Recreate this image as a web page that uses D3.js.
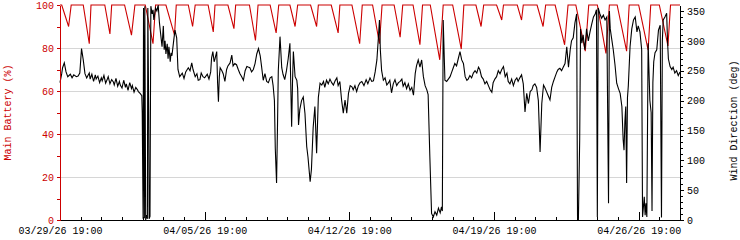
<!DOCTYPE html>
<html>
<head>
<meta charset="utf-8">
<script src="https://cdn.jsdelivr.net/npm/d3@7"></script>
<style>
  body { margin: 0; background: #fff; }
  svg { display: block; }
  text { font-family: "Liberation Mono", "DejaVu Sans Mono", monospace; font-size: 10px; }
</style>
</head>
<body>
<div id="chart"></div>
<script>
// time axis: 30 days starting 03/29/26 19:00, values are hours since start
const startTime = new Date(2026, 2, 29, 19, 0)
const spanDays = 30
const labelDays = [0, 7, 14, 21, 28]

const batTicks = [0, 20, 40, 60, 80, 100]
const windTicks = [0, 50, 100, 150, 200, 250, 300, 350]

// main battery (%): [hour, pct]
const battery = [
  [0,100],[2,100],[10,90],[13,100],[27,100],[34,82],[36,100],[52,100],[58,86.5],[60,100],
  [75,100],[83,86],[87,100],[99,100],[108,82],[111,100],[123,100],[133,86],[135,100],
  [149,100],[154,90],[157,100],[172,100],[178,87.5],[180,100],[195,100],[202,89],[204,100],
  [220,100],[227,83.5],[230,100],[244,100],[251,87],[254,100],[267,100],[273,90],[276,100],
  [291,100],[298,90],[300,100],[315,100],[323,87],[325,100],[339,100],[348,82],[351,100],
  [363,100],[371,82],[374,100],[388,100],[395,85],[398,100],[410,100],[418,81.5],[421,100],
  [430,100],[441,74.5],[445,100],[456,100],[466,79.5],[469,100],[483,100],[489,90],[492,100],
  [507,100],[513,93],[515,100],[531,100],[536,93],[538,100],[554,100],[561,90],[564,100],
  [575,100],[586,81.5],[590,100],[599,100],[610,78.5],[614,100],[624,100],[634,77.5],[638,100],
  [647,100],[658,78.5],[661,100],[672,100],[683,79],[686,100],[696,100],[706,81],[709,100],
  [720,100]
]

// wind direction (deg): [hour, deg]
const wind = [
  [0,230],[2,245],[3,255],[5,263],[7,248],[9,240],[12,244],[14,238],[16,243],[19,240],
  [21,241],[23,246],[25,287],[27,268],[29,245],[31,238],[34,246],[35,236],[37,244],[39,232],
  [41,243],[42,236],[44,241],[46,230],[48,238],[49,233],[51,242],[53,229],[55,236],[56,240],
  [58,228],[60,235],[62,231],[63,226],[65,237],[67,224],[69,232],[70,226],[72,221],[74,234],
  [76,222],[77,228],[79,217],[81,230],[83,220],[84,225],[86,214],[88,222],[90,218],[91,215],
  [93,212],[95,208],[95.5,180],[96.5,2],[97,355],[98,3],[98.5,358],[99.5,0],[100.5,8],[101.5,2],
  [102,355],[103,180],[103.5,2],[104.5,6],[105.5,358],[107,345],[108,352],[109,335],[111,355],
  [112.5,350],[114,360],[115.5,330],[117,310],[118.5,290],[120,325],[121,285],[122,300],
  [123,278],[124.5,295],[125.5,270],[126.5,290],[128,265],[129,280],[130,275],[132,300],
  [133.5,318],[135.5,305],[137,252],[139,240],[142,246],[144,237],[146,248],[149,255],
  [151,250],[153,263],[154.5,252],[157,240],[159,245],[160.5,234],[162.5,235],[164,246],
  [166,240],[168,238],[171,244],[173,236],[175,248],[176,271],[177.5,282],[179,265],[180,270],
  [182,282],[183,230],[184,198],[185,240],[186,255],[188,250],[189.5,245],[191.5,232],
  [193.5,252],[195,258],[197.5,263],[199.5,276],[201,258],[203,262],[205,260],[207,252],
  [209,245],[211,240],[213,234],[215,250],[217,257],[218.5,256],[220.5,255],[222.5,248],
  [224.5,252],[226.5,262],[228.5,278],[230.5,287],[232.5,275],[234,258],[236,234],[238,245],
  [240,232],[242,230],[244,238],[246,240],[247.5,225],[249,200],[250,120],[251.5,62],
  [252.5,150],[253.5,250],[255.5,307],[257.5,255],[259,244],[261,235],[263,250],[265,270],
  [267,296],[269,156],[270,230],[271,282],[273,240],[275,234],[276,220],[277,159],[278.5,185],
  [280.5,200],[282.5,206],[284.5,178],[286.5,123],[288,105],[290.5,64],[292,85],[294,155],
  [296,190],[298,112],[300,205],[302,229],[304,226],[306,232],[307.5,222],[309.5,234],
  [311.5,228],[313.5,236],[315.5,230],[317.5,226],[319.5,233],[321.5,238],[323,225],[325,232],
  [327,201],[329,179],[331,201],[333,179],[335,212],[337,225],[339,223],[340.5,218],[342.5,225],
  [344.5,215],[346.5,225],[348.5,230],[350.5,232],[353,225],[355.5,235],[357.5,228],[360,238],
  [362,232],[364,233],[366,248],[368,268],[369.5,300],[371,335],[372,285],[373.5,250],
  [375.5,234],[377.5,238],[379.5,226],[381.5,230],[383,234],[385,213],[387,228],[389,235],
  [391,225],[393,230],[395,232],[397,236],[398.5,224],[400.5,230],[402.5,220],[404.5,228],
  [406.5,217],[408.5,222],[410.5,209],[412.5,245],[414,258],[416,268],[418,256],[420,268],
  [422,240],[424,225],[426,218],[427.5,210],[429.5,106],[431.5,11],[433.5,5],[435.5,14],
  [437.5,8],[439.5,20],[441.5,12],[443,22],[444,15],[445,335],[447,234],[449,232],[451,236],
  [453,240],[455,248],[456.5,254],[458.5,262],[460.5,258],[462.5,270],[464.5,282],[466.5,268],
  [468.5,262],[470.5,240],[472.5,234],[474,236],[476,242],[478,238],[480,246],[482,250],
  [484,246],[486,256],[487.5,252],[489.5,240],[491.5,236],[493.5,228],[495.5,232],[497.5,225],
  [499.5,218],[501.5,214],[503,230],[505,236],[507,240],[509,250],[511,245],[513,252],
  [515,257],[517,240],[519,246],[520.5,232],[522.5,228],[524.5,236],[526.5,225],[528.5,234],
  [530.5,238],[532,232],[534,238],[536,243],[538,228],[540,181],[542,212],[544,195],[546,215],
  [548,218],[549.5,225],[551.5,228],[553.5,222],[555.5,200],[557.5,114],[559.5,195],
  [561.5,226],[563,222],[565,215],[567,208],[569,201],[571,222],[573,232],[575,240],[577,248],
  [578.5,252],[580.5,254],[582.5,250],[584.5,256],[586.5,262],[588.5,290],[590.5,256],
  [592.5,285],[594,300],[596,305],[598,330],[600,345],[601,5],[602,0],[603.5,134],[604.5,320],
  [606,296],[607.5,310],[609.5,285],[611.5,320],[613.5,300],[615.5,315],[617.5,328],
  [619.5,340],[621.5,345],[623,352],[624,5],[625,355],[627,345],[629,338],[631,343],[633,335],
  [635,340],[636,180],[637,28],[638,350],[639,320],[640.5,305],[642.5,285],[644.5,260],
  [646.5,229],[648.5,220],[650.5,212],[652.5,190],[654,134],[655,117],[656,165],[657,190],
  [658,62],[659,205],[660,225],[662,290],[664,320],[666,335],[668,340],[670,315],[671.5,325],
  [673.5,315],[675.5,285],[676.5,5],[677.5,22],[678.5,39],[679.5,8],[680.5,28],[681.5,5],
  [683,296],[685,200],[686.5,180],[687.5,15],[688.5,230],[689.5,265],[691,280],[693,285],
  [695,318],[697,326],[698.5,4],[699.5,300],[700.5,335],[702.5,340],[704.5,346],[705.5,300],
  [706.5,270],[708.5,257],[710.5,252],[712,256],[714,246],[716,250],[718,242],[720,248]
]

const width = 740, height = 240
const margin = { top: 5, right: 60, bottom: 20, left: 60 }
const red = '#cc0000'

const toDate = h => new Date(+startTime + h * 36e5)
const endTime = d3.timeDay.offset(startTime, spanDays)

const x = d3.scaleTime()
  .domain([startTime, endTime])
  .range([margin.left, width - margin.right])
const yBat = d3.scaleLinear()
  .domain([0, 100])
  .range([height - margin.bottom, margin.top])
const yWind = d3.scaleLinear()
  .domain([0, 360])
  .range([height - margin.bottom, margin.top])

const svg = d3.select('#chart')
  .append('svg')
  .attr('width', width)
  .attr('height', height)

svg.append('rect')
  .attr('x', margin.left).attr('y', margin.top)
  .attr('width', width - margin.left - margin.right)
  .attr('height', height - margin.top - margin.bottom)
  .attr('fill', '#fff')

// horizontal grid from the battery scale
svg.append('g')
  .selectAll('line')
  .data(batTicks.filter(d => d > 0 && d < 100))
  .join('line')
  .attr('x1', margin.left).attr('x2', width - margin.right)
  .attr('y1', d => yBat(d)).attr('y2', d => yBat(d))
  .attr('stroke', '#d6d6d6')
  .attr('shape-rendering', 'crispEdges')

const batLine = d3.line()
  .x(d => x(toDate(d[0])))
  .y(d => yBat(d[1]))
const windLine = d3.line()
  .x(d => x(toDate(d[0])))
  .y(d => yWind(d[1]))

svg.append('path')
  .datum(battery)
  .attr('fill', 'none')
  .attr('stroke', red)
  .attr('stroke-width', 1.1)
  .attr('d', batLine)

svg.append('path')
  .datum(wind)
  .attr('fill', 'none')
  .attr('stroke', '#000')
  .attr('stroke-width', 1.1)
  .attr('d', windLine)

// x axis: daily minor ticks pointing into the plot, weekly labels
const dayTicks = d3.range(0, spanDays + 1).map(d => d3.timeDay.offset(startTime, d))
const labelTicks = labelDays.map(d => d3.timeDay.offset(startTime, d))
const fmt = d3.timeFormat('%m/%d/%y %H:%M')
const bottom = height - margin.bottom

svg.append('g')
  .attr('transform', `translate(0,${bottom})`)
  .call(d3.axisTop(x).tickValues(dayTicks).tickSize(3).tickFormat(''))
  .call(g => g.select('.domain').remove())
svg.append('g')
  .attr('transform', `translate(0,${bottom})`)
  .call(d3.axisTop(x).tickValues(labelTicks).tickSize(8).tickFormat(''))
  .call(g => g.select('.domain').remove())
svg.append('g')
  .attr('transform', `translate(0,${bottom})`)
  .call(d3.axisBottom(x).tickValues(labelTicks).tickSize(0).tickPadding(7).tickFormat(fmt))
  .call(g => g.select('.domain').remove())
  .call(g => g.selectAll('text').attr('fill', '#000').attr('font-size', 10).attr('font-family', null))

svg.append('line')
  .attr('x1', margin.left).attr('x2', width - margin.right)
  .attr('y1', bottom + 0.5).attr('y2', bottom + 0.5)
  .attr('stroke', '#000')

// left axis (battery)
svg.append('g')
  .attr('transform', `translate(${margin.left},0)`)
  .call(d3.axisLeft(yBat).tickValues(d3.range(10, 100, 20)).tickSize(3).tickFormat(''))
  .call(g => g.select('.domain').remove())
  .call(g => g.selectAll('line').attr('stroke', red))
svg.append('g')
  .attr('transform', `translate(${margin.left},0)`)
  .call(d3.axisLeft(yBat).tickValues(batTicks).tickSize(3).tickSizeOuter(0).tickPadding(3))
  .call(g => g.select('.domain').attr('stroke', red))
  .call(g => g.selectAll('line').attr('stroke', red))
  .call(g => g.selectAll('text').attr('fill', red).attr('font-size', 10).attr('font-family', null))

// right axis (wind direction)
svg.append('g')
  .attr('transform', `translate(${width - margin.right},0)`)
  .call(d3.axisRight(yWind).tickValues(d3.range(0, 360, 10)).tickSize(3).tickFormat(''))
  .call(g => g.select('.domain').remove())
svg.append('g')
  .attr('transform', `translate(${width - margin.right},0)`)
  .call(d3.axisRight(yWind).tickValues(windTicks).tickSize(4).tickSizeOuter(0).tickPadding(3))
  .call(g => g.selectAll('text').attr('fill', '#000').attr('font-size', 10).attr('font-family', null))

// axis titles
svg.append('text')
  .attr('transform', `translate(11,${(margin.top + bottom) / 2}) rotate(-90)`)
  .attr('text-anchor', 'middle')
  .attr('fill', red)
  .text('Main Battery (%)')
svg.append('text')
  .attr('transform', `translate(737,${(margin.top + bottom) / 2 + 8}) rotate(-90)`)
  .attr('text-anchor', 'middle')
  .attr('fill', '#000')
  .text('Wind Direction (deg)')

svg.selectAll('.tick line, .domain').attr('shape-rendering', 'crispEdges')
</script>
</body>
</html>
